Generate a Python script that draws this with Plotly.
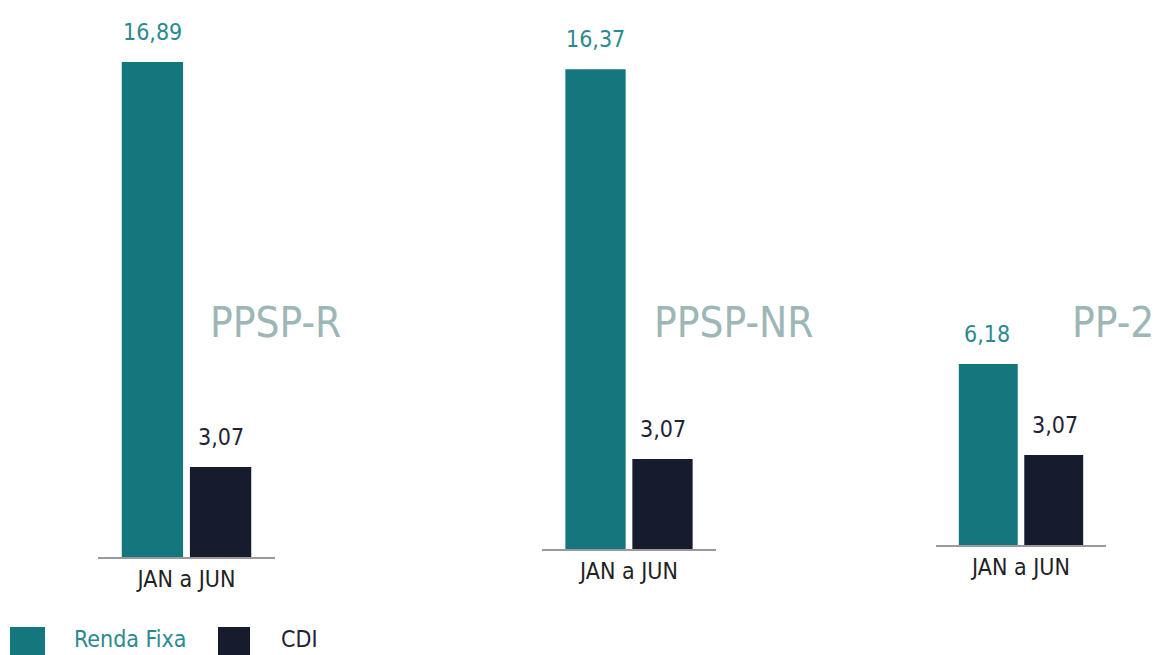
import plotly.graph_objects as go

W, H = 1155, 655
categories = ["JAN a JUN"]
plans = ["PPSP-R", "PPSP-NR", "PP-2"]
renda_fixa = [16.89, 16.37, 6.18]
cdi = [3.07, 3.07, 3.07]
series_names = ["Renda Fixa", "CDI"]

TEAL = "#13777d"
NAVY = "#161c2e"
TEAL_TXT = "#2b8a90"
DARK_TXT = "#1f2333"
TITLE_C = "#9db6b6"
FONT = "Liberation Sans Narrow, DejaVu Sans Condensed, Arial Narrow, sans-serif"

def fmt(v):
    return f"{v:.2f}".replace(".", ",")

# layout geometry (pixels)
x_dom_px = [(98, 275), (542, 716), (936, 1106)]
base_px = [557, 549, 545]
px_per_unit = 29.3
R = 18.5
title_x_px = [208, 652, 1070]
title_y_px = 322

fig = go.Figure()
layout = dict(width=W, height=H, margin=dict(l=0, r=0, t=0, b=0),
              plot_bgcolor="white", paper_bgcolor="white",
              barmode="group", bargap=0.23, bargroupgap=0.1,
              showlegend=False, font=dict(family=FONT))
annotations = []
for i in range(3):
    sfx = "" if i == 0 else str(i + 1)
    xa, ya = "x" + sfx, "y" + sfx
    fig.add_trace(go.Bar(x=categories, y=[renda_fixa[i]], name=series_names[0],
                         marker=dict(color=TEAL, line=dict(width=0)),
                         xaxis=xa, yaxis=ya, offsetgroup="a"))
    fig.add_trace(go.Bar(x=categories, y=[cdi[i]], name=series_names[1],
                         marker=dict(color=NAVY, line=dict(width=0)),
                         xaxis=xa, yaxis=ya, offsetgroup="b"))
    x0, x1 = x_dom_px[i]
    yb = 1 - base_px[i] / H
    yt = yb + R * px_per_unit / H
    layout["xaxis" + sfx] = dict(domain=[x0 / W, x1 / W], anchor=ya,
                                 showline=True, linecolor="#9a9a9a", linewidth=2,
                                 showgrid=False, zeroline=False, ticks="",
                                 tickfont=dict(size=23, color="#222222", family=FONT))
    layout["yaxis" + sfx] = dict(domain=[yb, yt], anchor=xa, range=[0, R],
                                 visible=False, showgrid=False)
    # value labels
    annotations.append(dict(x=categories[0], y=renda_fixa[i], xref=xa, yref=ya,
                            text=fmt(renda_fixa[i]), showarrow=False, xshift=-34,
                            yanchor="bottom", yshift=15,
                            font=dict(size=23, color=TEAL_TXT, family=FONT)))
    annotations.append(dict(x=categories[0], y=cdi[i], xref=xa, yref=ya,
                            text=fmt(cdi[i]), showarrow=False, xshift=34,
                            yanchor="bottom", yshift=15,
                            font=dict(size=23, color=DARK_TXT, family=FONT)))
    annotations.append(dict(x=title_x_px[i] / W, y=1 - title_y_px / H, xref="paper", yref="paper",
                            text=plans[i], showarrow=False, xanchor="left", yanchor="middle",
                            font=dict(size=42, color=TITLE_C, family=FONT)))

# legend drawn manually
shapes = [
    dict(type="rect", xref="paper", yref="paper", x0=10 / W, x1=45 / W,
         y0=0, y1=1 - 627 / H, fillcolor=TEAL, line=dict(width=0)),
    dict(type="rect", xref="paper", yref="paper", x0=218 / W, x1=250 / W,
         y0=0, y1=1 - 627 / H, fillcolor=NAVY, line=dict(width=0)),
]
annotations.append(dict(x=72 / W, y=1 - 639 / H, xref="paper", yref="paper", text=series_names[0],
                        showarrow=False, xanchor="left", yanchor="middle",
                        font=dict(size=23, color=TEAL_TXT, family=FONT)))
annotations.append(dict(x=279 / W, y=1 - 639 / H, xref="paper", yref="paper", text=series_names[1],
                        showarrow=False, xanchor="left", yanchor="middle",
                        font=dict(size=23, color=DARK_TXT, family=FONT)))

layout["annotations"] = annotations
layout["shapes"] = shapes
fig.update_layout(**layout)
fig.write_html("out.html", config={"displayModeBar": False},
               post_script="document.body.style.margin='0';document.body.style.overflow='hidden';")
